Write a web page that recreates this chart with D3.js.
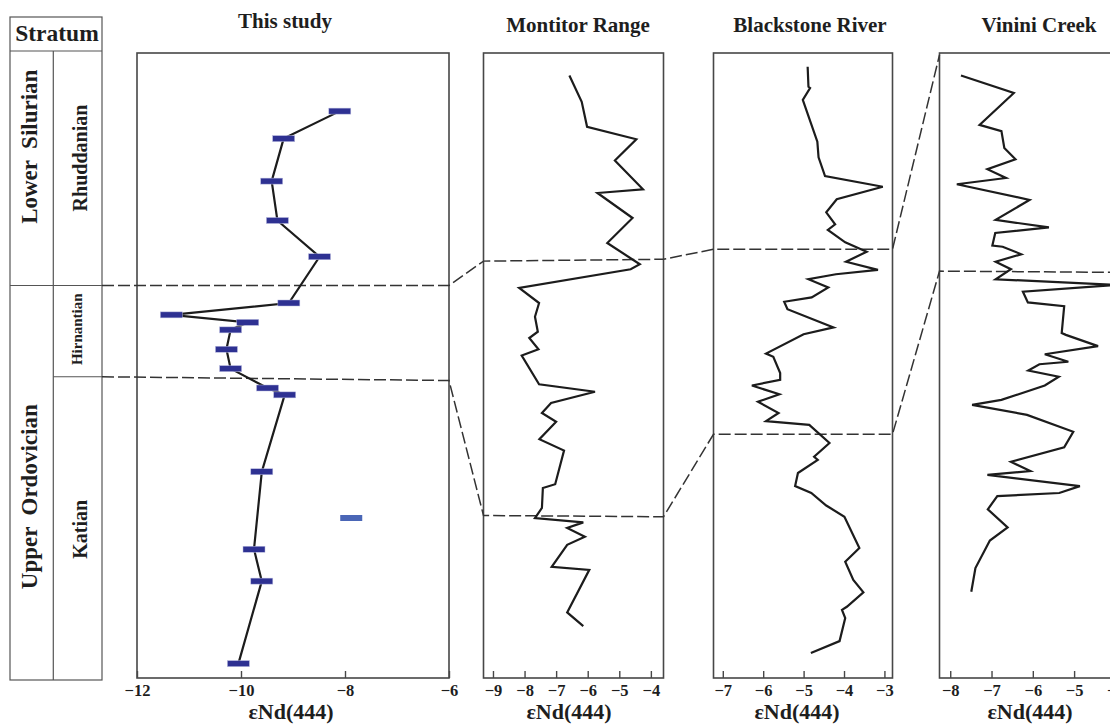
<!DOCTYPE html>
<html>
<head>
<meta charset="utf-8">
<script src="https://cdn.jsdelivr.net/npm/d3@7"></script>
<style>
body { margin: 0; background: #fff; }
svg text { font-family: 'Liberation Serif', 'Times New Roman', serif; font-weight: bold; fill: #1e1e1e; }
</style>
</head>
<body>
<svg id="chart"></svg>
<script>
// stratigraphic level of every sample, 0 = base of section, 100 = top
// This study (bars)
let studyValues = [-8.10, -9.18, -9.41, -9.30, -8.49, -9.08, -11.34, -9.87, -10.20, -10.28, -10.20, -9.49, -9.16, -9.60, -9.75, -9.60, -10.05]
let studyLevels = [90.7, 86.3, 79.5, 73.2, 67.4, 60.0, 58.1, 56.9, 55.7, 52.6, 49.5, 46.4, 45.3, 33.0, 20.6, 15.5, 2.3]
let outlierValues = [-7.88]
let outlierLevels = [25.6]

// Montitor Range
let montitorValues = [-6.58, -6.19, -6.02, -4.46, -5.14, -4.25, -5.69, -4.58, -5.38, -4.35, -4.64, -8.17, -7.54, -7.67, -7.58, -7.85, -7.56, -8.09, -7.54, -5.77, -7.16, -7.45, -7.00, -7.53, -6.75, -7.03, -7.42, -7.45, -7.67, -6.14, -6.65, -6.09, -6.65, -7.14, -5.95, -6.65, -6.14]
let montitorLevels = [96.4, 92.2, 88.2, 86.2, 82.8, 78.2, 77.6, 73.6, 69.6, 66.2, 65.4, 62.4, 60.0, 57.8, 55.4, 54.4, 52.6, 51.6, 47.0, 45.8, 44.0, 42.4, 41.0, 38.2, 36.4, 31.0, 30.4, 27.2, 25.6, 24.9, 24.0, 22.6, 21.3, 17.8, 17.3, 10.5, 8.3]

// Blackstone River
let blackstoneValues = [-4.90, -4.88, -4.84, -5.02, -4.66, -4.63, -4.47, -3.04, -4.18, -4.44, -4.22, -4.40, -3.97, -3.44, -3.95, -3.16, -4.20, -4.88, -4.39, -4.80, -5.48, -5.40, -4.26, -5.00, -5.93, -5.75, -5.58, -5.58, -6.28, -5.60, -6.13, -5.62, -5.93, -4.86, -4.36, -4.74, -4.65, -5.14, -5.21, -4.81, -4.44, -3.99, -3.62, -3.97, -3.77, -3.52, -3.93, -4.05, -3.97, -4.11, -4.82]
let blackstoneLevels = [97.8, 94.6, 94.4, 92.5, 85.8, 83.3, 80.3, 78.6, 76.6, 74.5, 72.6, 71.7, 69.7, 68.2, 66.6, 65.3, 64.6, 63.8, 62.5, 60.9, 60.2, 59.0, 56.1, 55.0, 51.9, 51.4, 48.8, 47.7, 46.8, 45.4, 44.2, 42.4, 41.1, 40.5, 37.6, 35.4, 34.9, 32.8, 30.7, 29.6, 27.6, 25.8, 20.8, 18.6, 15.7, 13.7, 11.4, 10.9, 9.6, 5.9, 4.0]

// Vinini Creek
let vininiValues = [-7.74, -6.46, -7.29, -6.76, -6.69, -6.42, -7.10, -6.65, -7.84, -6.08, -6.90, -5.61, -6.91, -6.98, -6.73, -6.28, -6.90, -6.53, -6.90, -3.95, -6.24, -6.12, -5.24, -5.30, -5.20, -4.42, -5.71, -5.14, -5.84, -6.11, -5.37, -5.71, -6.76, -7.47, -6.14, -5.02, -5.24, -6.53, -6.06, -7.10, -4.86, -5.36, -6.86, -7.09, -6.61, -7.04, -7.39, -7.49]
let vininiLevels = [96.4, 93.6, 88.5, 87.5, 84.8, 83.0, 81.4, 80.0, 79.0, 76.5, 73.3, 72.1, 71.2, 69.2, 69.0, 67.8, 66.6, 65.4, 63.8, 62.9, 61.8, 60.1, 59.5, 55.2, 54.9, 53.1, 51.8, 50.6, 50.2, 49.2, 48.2, 46.8, 44.5, 43.7, 42.1, 39.4, 36.9, 34.6, 33.1, 32.5, 30.7, 29.6, 29.1, 27.0, 24.1, 22.0, 17.6, 13.8]

// correlation levels at each panel edge (table, this study, Montitor x2, Blackstone x2, Vinini)
let silOrdLevels = [62.8, 62.8, 66.7, 67.0, 68.6, 68.6, 99.7]
let hirnKatLevels = [48.2, 47.6, 26.0, 25.8, 39.0, 39.0, 65.1, 64.9]

// stratum column
let seriesNames = ['Lower  Silurian', 'Upper  Ordovician']
let seriesLabelLevels = [85.0, 29.0]
let stageNames = ['Rhuddanian', 'Hirnantian', 'Katian']
let stageLabelLevels = [83.2, 55.8, 23.8]
let stageFontSizes = [20, 15, 20]

let titles = ['This study', 'Montitor Range', 'Blackstone River', 'Vinini Creek']
let axisTitle = 'εNd(444)'
let tickSets = [[-12, -10, -8, -6], [-9, -8, -7, -6, -5, -4], [-7, -6, -5, -4, -3], [-8, -7, -6, -5, -4]]
let domains = [[-12, -6], [-9.3, -3.6], [-7.23, -2.8], [-8.26, -3.84]]

let width = 1110
let height = 724
let plotTop = 53
let plotBottom = 678

let panels = [
    {x0: 137, x1: 449, titleX: 285, titleY: 28, labelX: 291},
    {x0: 483.5, x1: 663.5, titleX: 578, titleY: 32, labelX: 569},
    {x0: 713.5, x1: 892.5, titleX: 810, titleY: 32, labelX: 797},
    {x0: 939.5, x1: 1122, titleX: 1039, titleY: 32, labelX: 1030}
]

let table = {x0: 10, x1: 102, mid: 53.3, y0: 17, head: 51, y1: 680}

let svg = d3.select('#chart')
    .attr('width', width)
    .attr('height', height)

let yScale = d3.scaleLinear()
    .domain([0, 100])
    .range([plotBottom, plotTop])

panels.forEach((p, i) => {
    p.x = d3.scaleLinear().domain(domains[i]).range([p.x0, p.x1])
})

let zip = (vals, lvls) => vals.map((v, i) => ({v: v, h: lvls[i]}))

let drawTable = () => {
    let g = svg.append('g').attr('stroke', '#555').attr('stroke-width', 1.2).attr('fill', 'none')
    g.append('rect')
        .attr('x', table.x0).attr('y', table.y0)
        .attr('width', table.x1 - table.x0).attr('height', table.y1 - table.y0)
    g.append('line').attr('x1', table.x0).attr('x2', table.x1).attr('y1', table.head).attr('y2', table.head)
    g.append('line').attr('x1', table.mid).attr('x2', table.mid).attr('y1', table.head).attr('y2', table.y1)
    g.append('line').attr('x1', table.x0).attr('x2', table.x1)
        .attr('y1', yScale(silOrdLevels[0])).attr('y2', yScale(silOrdLevels[0]))
    g.append('line').attr('x1', table.mid).attr('x2', table.x1)
        .attr('y1', yScale(hirnKatLevels[0])).attr('y2', yScale(hirnKatLevels[0]))

    svg.append('text')
        .attr('x', (table.x0 + table.x1) / 2 + 1)
        .attr('y', 41)
        .attr('text-anchor', 'middle')
        .style('font-size', '23.5px')
        .text('Stratum')

    seriesNames.forEach((s, i) => {
        svg.append('text')
            .attr('transform', 'translate(37,' + yScale(seriesLabelLevels[i]) + ') rotate(-90)')
            .attr('text-anchor', 'middle')
            .style('font-size', '23px')
            .style('white-space', 'pre')
            .text(s)
    })
    stageNames.forEach((s, i) => {
        let bx = stageFontSizes[i] > 16 ? 87 : 82
        svg.append('text')
            .attr('transform', 'translate(' + bx + ',' + yScale(stageLabelLevels[i]) + ') rotate(-90)')
            .attr('text-anchor', 'middle')
            .style('font-size', stageFontSizes[i] + 'px')
            .text(s)
    })
}

let drawFrames = () => {
    panels.forEach((p, i) => {
        svg.append('rect')
            .attr('x', p.x0).attr('y', plotTop)
            .attr('width', p.x1 - p.x0).attr('height', plotBottom - plotTop)
            .attr('fill', 'none')
            .attr('stroke', '#474747')
            .attr('stroke-width', 1.6)

        let axis = d3.axisBottom(p.x)
            .tickValues(tickSets[i])
            .tickSize(-7)
            .tickPadding(6)
            .tickFormat(d3.format('d'))

        let ag = svg.append('g')
            .call(axis)
            .attr('transform', 'translate(0,' + plotBottom + ')')
        ag.select('.domain').remove()
        ag.selectAll('line').attr('stroke', '#474747').attr('stroke-width', 1.4)
        ag.selectAll('text')
            .attr('fill', '#1e1e1e')
            .style('font-family', "'Liberation Serif', 'Times New Roman', serif")
            .style('font-weight', 'bold')
            .style('font-size', '16.5px')

        svg.append('text')
            .attr('x', p.titleX).attr('y', p.titleY)
            .attr('text-anchor', 'middle')
            .style('font-size', '21px')
            .text(titles[i])

        svg.append('text')
            .attr('x', p.labelX).attr('y', 719)
            .attr('text-anchor', 'middle')
            .style('font-size', '22px')
            .text(axisTitle)
    })
}

let drawCorrelation = () => {
    let edgesA = [table.x1, panels[0].x1, panels[1].x0, panels[1].x1, panels[2].x0, panels[2].x1, panels[3].x0]
    let edgesB = edgesA.concat([panels[3].x1])
    let line = d3.line().x(d => d[0]).y(d => yScale(d[1]))

    ;[[edgesA, silOrdLevels], [edgesB, hirnKatLevels]].forEach(([xs, lv]) => {
        svg.append('path')
            .datum(xs.map((x, i) => [x, lv[i]]))
            .attr('d', line)
            .attr('fill', 'none')
            .attr('stroke', '#333')
            .attr('stroke-width', 1.5)
            .attr('stroke-dasharray', '12,4')
    })
}

let drawCurves = () => {
    let sets = [zip(studyValues, studyLevels), zip(montitorValues, montitorLevels),
        zip(blackstoneValues, blackstoneLevels), zip(vininiValues, vininiLevels)]
    sets.forEach((pts, i) => {
        let p = panels[i]
        let line = d3.line().x(d => p.x(d.v)).y(d => yScale(d.h))
        svg.append('path')
            .datum(pts)
            .attr('d', line)
            .attr('fill', 'none')
            .attr('stroke', '#1c1c1c')
            .attr('stroke-width', 2.2)
            .attr('stroke-linejoin', 'miter')
    })

    let x = panels[0].x
    svg.selectAll('rect.sample')
        .data(zip(studyValues, studyLevels))
        .enter()
        .append('rect')
        .attr('class', 'sample')
        .attr('x', d => x(d.v) - 11)
        .attr('y', d => yScale(d.h) - 3)
        .attr('width', 22)
        .attr('height', 6)
        .attr('fill', '#2e3192')
        .attr('stroke', '#b9bbe0')
        .attr('stroke-width', 0.5)

    svg.selectAll('rect.outlier')
        .data(zip(outlierValues, outlierLevels))
        .enter()
        .append('rect')
        .attr('class', 'outlier')
        .attr('x', d => x(d.v) - 11)
        .attr('y', d => yScale(d.h) - 3)
        .attr('width', 22)
        .attr('height', 6)
        .attr('fill', '#4a66b6')
}

drawTable()
drawFrames()
drawCorrelation()
drawCurves()
</script>
</body>
</html>
